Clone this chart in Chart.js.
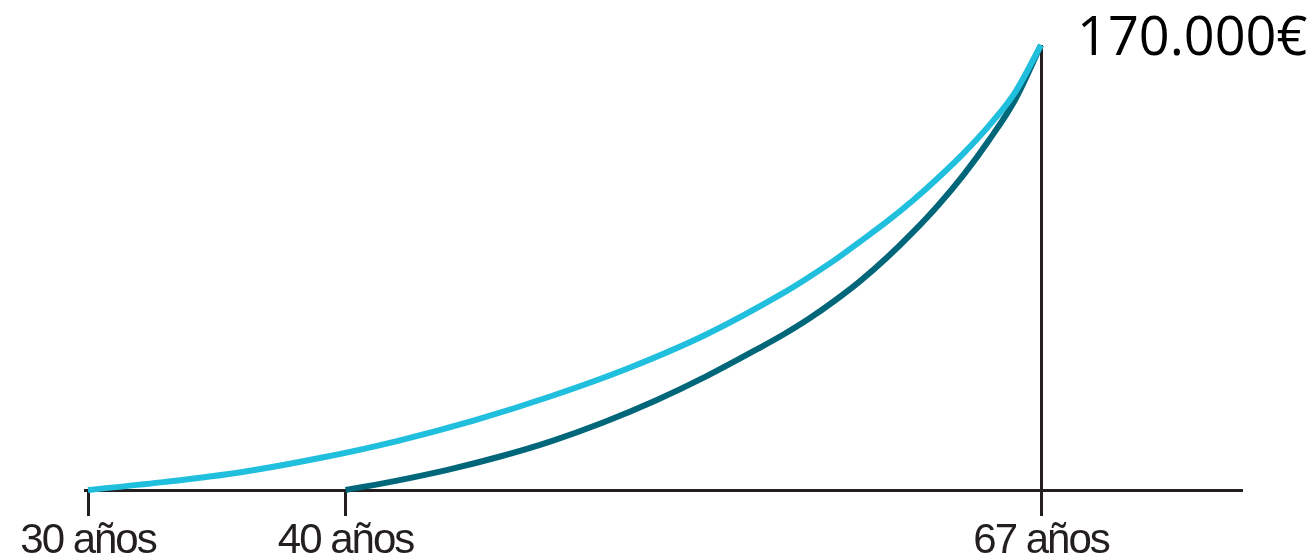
<!DOCTYPE html>
<html lang="es">
<head>
<meta charset="utf-8">
<title>Ahorro acumulado hasta los 67 años</title>
<script src="https://cdn.jsdelivr.net/npm/chart.js@4.4.1/dist/chart.umd.min.js"></script>
<style>
  html, body { margin: 0; padding: 0; background: #ffffff; }
  canvas { display: block; }
</style>
</head>
<body>
<canvas id="chart" width="1314" height="555"></canvas>
<script>
// Edades marcadas en el eje
const tickAges = [30, 40, 67];

// Empezando a ahorrar a los 30 años
const agesFrom30 = [30, 33, 36, 39, 42, 45, 48, 51, 54, 57, 58, 59, 60, 61, 62, 63, 64, 65, 66, 67];
const savingsFrom30 = [0, 3100, 6900, 12200, 18700, 26600, 35900, 46600, 59400, 75300, 81400, 87900, 95100, 102400, 110400, 119200, 128700, 139400, 152000, 170000];

// Empezando a ahorrar a los 40 años
const agesFrom40 = [40, 42, 44, 46, 48, 50, 52, 54, 56, 57, 58, 59, 60, 61, 62, 63, 64, 65, 66, 67];
const savingsFrom40 = [0, 3600, 7800, 12800, 18700, 25800, 34000, 43400, 53900, 59400, 65500, 72400, 80000, 88600, 98200, 108700, 120500, 133900, 149200, 170000];

const INK = '#231f20';
const LIGHT = '#20bfdd';
const DARK = '#00677a';

const toPoints = (xs, ys) => xs.map((x, i) => ({ x, y: ys[i] }));
const euros = v => String(Math.round(v)).replace(/\B(?=(\d{3})+(?!\d))/g, '.') + '€';

// Importe final junto al extremo de la curva
const endLabel = {
  id: 'endLabel',
  afterDraw(chart) {
    const meta = chart.getDatasetMeta(0);
    const last = meta.data[meta.data.length - 1];
    const value = savingsFrom30[savingsFrom30.length - 1];
    const ctx = chart.ctx;
    ctx.save();
    ctx.letterSpacing = '0px';
    ctx.font = '54px "Open Sans", "Noto Sans", sans-serif';
    ctx.fillStyle = '#000000';
    ctx.textAlign = 'left';
    ctx.textBaseline = 'alphabetic';
    ctx.fillText(euros(value), last.x + 36, last.y + 10);
    ctx.restore();
  }
};

// Rótulos del eje algo más apretados
const tightLabels = {
  id: 'tightLabels',
  beforeDraw(chart) { chart.ctx.letterSpacing = '-2px'; },
  afterDraw(chart) { chart.ctx.letterSpacing = '0px'; }
};

const lineStyle = {
  borderWidth: 6,
  pointRadius: 0,
  cubicInterpolationMode: 'monotone',
  borderCapStyle: 'butt',
  clip: false
};

new Chart(document.getElementById('chart'), {
  type: 'line',
  data: {
    datasets: [
      Object.assign({ data: toPoints(agesFrom30, savingsFrom30), borderColor: LIGHT }, lineStyle),
      Object.assign({ data: toPoints(agesFrom40, savingsFrom40), borderColor: DARK }, lineStyle)
    ]
  },
  options: {
    responsive: false,
    animation: false,
    devicePixelRatio: 1,
    layout: { padding: { top: 45, left: 85, right: 73, bottom: 0 } },
    plugins: {
      legend: { display: false },
      tooltip: { enabled: false },
      title: { display: false }
    },
    scales: {
      x: {
        type: 'linear',
        min: 29.8835,
        max: 74.764,
        afterBuildTicks(scale) {
          scale.ticks = tickAges.map(v => ({ value: v }));
        },
        afterFit(scale) { scale.height = 65; },
        border: { display: true, color: INK, width: 3 },
        grid: {
          drawOnChartArea: true,
          color: c => (c.tick && c.tick.value === 67 ? INK : 'rgba(0,0,0,0)'),
          tickColor: INK,
          lineWidth: 3,
          tickWidth: 3,
          tickLength: 26
        },
        ticks: {
          autoSkip: false,
          maxRotation: 0,
          padding: 4,
          color: INK,
          font: { family: '"Liberation Sans", Arial, sans-serif', size: 42, lineHeight: 1 },
          callback: v => v + ' años'
        }
      },
      y: {
        display: false,
        min: 0,
        max: 170000
      }
    }
  },
  plugins: [tightLabels, endLabel]
});
</script>
</body>
</html>
